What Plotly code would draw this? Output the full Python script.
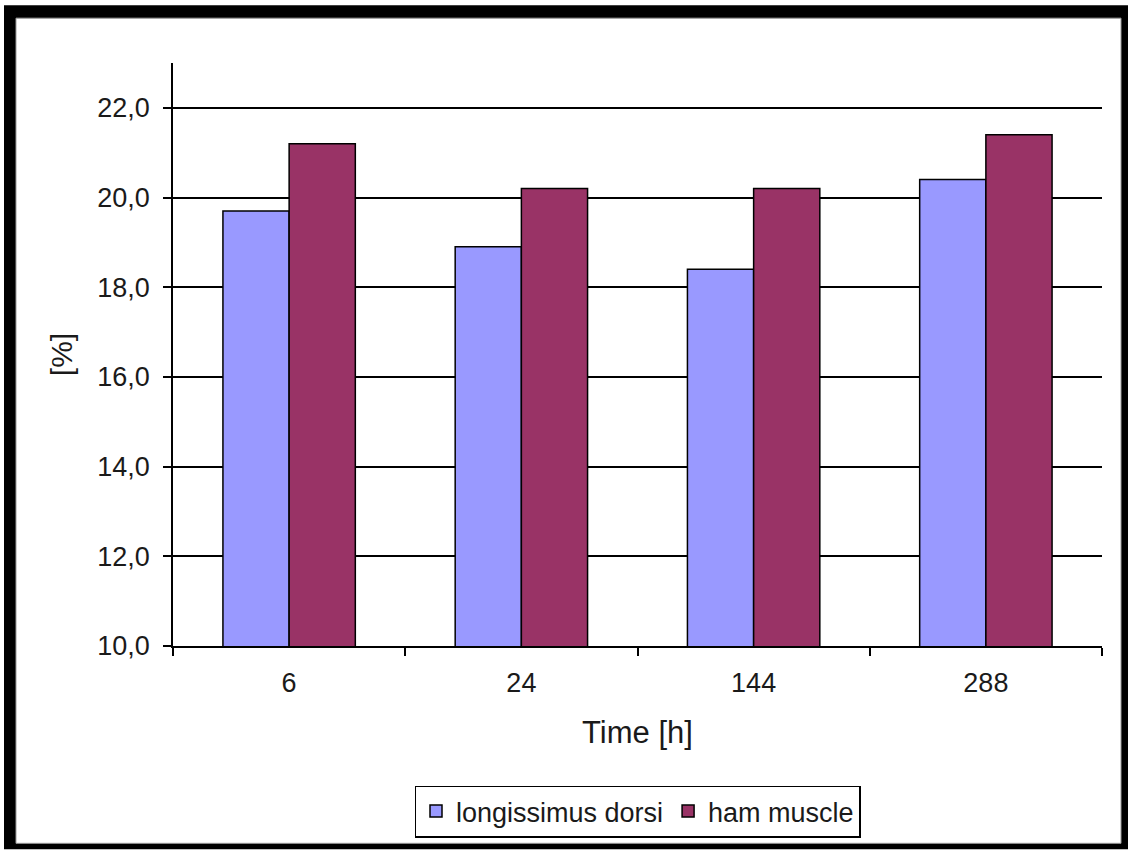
import plotly.graph_objects as go

# Sampling times and measured percentages
times = ["6", "24", "144", "288"]
longissimus_dorsi = [19.7, 18.9, 18.4, 20.4]
ham_muscle = [21.2, 20.2, 20.2, 21.4]

W, H = 1128, 850
ML, MR, MT, MB = 173, 26, 63, 202
PW, PH = W - ML - MR, H - MT - MB


def px_x(px):
    return (px - ML) / PW


def px_y(py):
    return (H - MB - py) / PH


FONT = "Liberation Sans, Arial, sans-serif"

fig = go.Figure()
fig.add_trace(go.Bar(
    x=times, y=longissimus_dorsi, name="longissimus dorsi",
    marker=dict(color="#9999FF", line=dict(color="#000000", width=1.5)),
))
fig.add_trace(go.Bar(
    x=times, y=ham_muscle, name="ham muscle",
    marker=dict(color="#993366", line=dict(color="#000000", width=1.5)),
))

# Picture frame: offset black border with a thin grey inner rule
shapes = [
    dict(type="rect", xref="paper", yref="paper", layer="below",
         x0=px_x(4), x1=px_x(1130), y0=px_y(852), y1=px_y(5),
         fillcolor="#000000", line=dict(width=0)),
    dict(type="rect", xref="paper", yref="paper", layer="below",
         x0=px_x(16), x1=px_x(1121), y0=px_y(846), y1=px_y(18),
         fillcolor="#FFFFFF", line=dict(color="#9a9a9a", width=1)),
]

fig.update_layout(
    width=W, height=H,
    margin=dict(l=ML, r=MR, t=MT, b=MB, pad=0),
    paper_bgcolor="#FFFFFF",
    plot_bgcolor="rgba(0,0,0,0)",
    barmode="group",
    bargap=0.43,
    bargroupgap=0,
    separators=",.",
    font=dict(family=FONT, size=27, color="#1a1a1a"),
    shapes=shapes,
    showlegend=True,
    legend=dict(
        orientation="h", x=0.5, xanchor="center", y=px_y(788), yanchor="top",
        bordercolor="#000000", borderwidth=1.5, bgcolor="#FFFFFF",
        font=dict(family=FONT, size=27, color="#1a1a1a"),
        itemclick=False,
    ),
    xaxis=dict(
        type="category",
        showgrid=False,
        showline=True, linecolor="#000000", linewidth=1.5,
        ticks="outside", ticklen=8, tickwidth=1.5, tickcolor="#000000",
        tickson="boundaries",
        tickfont=dict(family=FONT, size=27),
        ticklabelstandoff=12,
        title=dict(text="Time [h]", font=dict(family=FONT, size=31), standoff=24),
    ),
    yaxis=dict(
        range=[10, 23], dtick=2, tick0=10,
        tickformat=".1f",
        showgrid=True, gridcolor="#000000", gridwidth=1.5,
        showline=True, linecolor="#000000", linewidth=1.5,
        ticks="outside", ticklen=8, tickwidth=1.5, tickcolor="#000000",
        tickfont=dict(family=FONT, size=27),
        ticklabelstandoff=8,
        zeroline=False,
        title=dict(text="[%]", font=dict(family=FONT, size=30), standoff=16),
    ),
)

fig.write_html("out.html")
